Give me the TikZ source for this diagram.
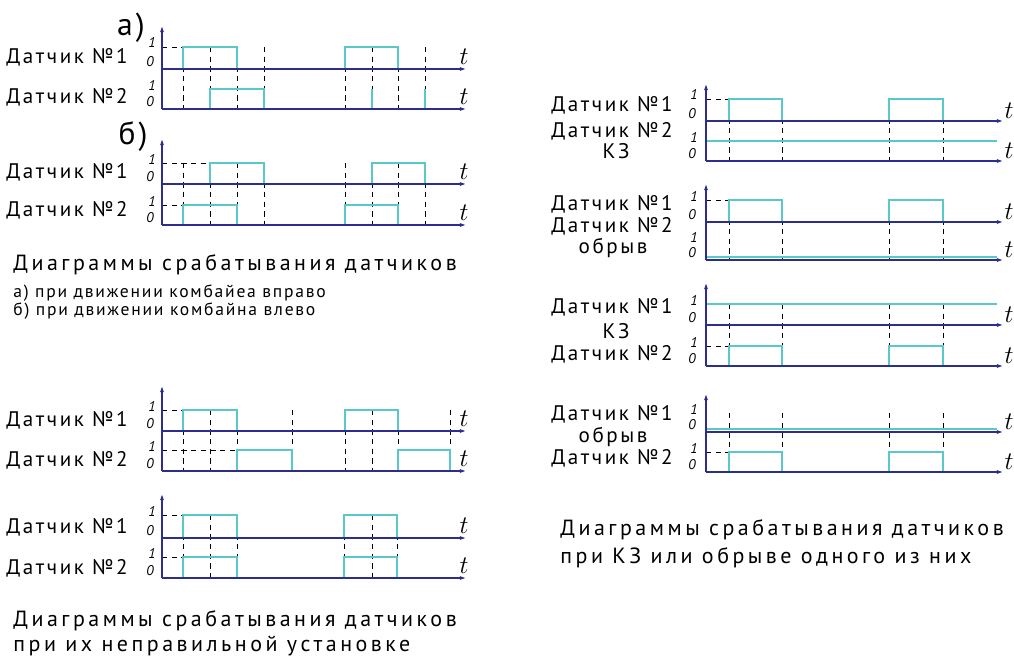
\documentclass[tikz,border=0pt]{standalone}
\usepackage{fontspec}
\setmainfont{PT Sans}
\newfontfamily\gost{PT Sans}[LetterSpace=10]
\newfontfamily\gostl{PT Sans}[LetterSpace=12]
\newfontfamily\gostw{PT Sans}[LetterSpace=16]
\usetikzlibrary{arrows.meta}
\definecolor{axblue}{RGB}{45,45,140}
\definecolor{sigcyan}{RGB}{90,200,200}

\begin{document}
\begin{tikzpicture}[x=0.02cm,y=-0.02cm,inner sep=0pt,
  ax/.style={draw=axblue,line width=0.8pt,-{Latex[length=4pt,width=2.2pt]}},
  sig/.style={draw=sigcyan,line width=0.7pt},
  guide/.style={draw=black,line width=0.55pt,dash pattern=on 3pt off 2.5pt},
  lab/.style={font={\gostl\fontsize{12}{14}\selectfont}},
  captxt/.style={font={\gostw\fontsize{12.5}{14}\selectfont},anchor=west},
  capsmall/.style={font={\gost\fontsize{10}{12}\selectfont},anchor=west},
  lvl/.style={font={\itshape\fontsize{8}{9}\selectfont}},
  tt/.style={font=\Large}]
\useasboundingbox (0,0) rectangle (1014,665);

% dashed guides and level lines, left side
\foreach \x in {183,210,237,264,345,372,398,425} \draw[guide] (\x,47) -- (\x,109);
\foreach \x in {183,210,237,264,345,372,398,425} \draw[guide] (\x,163) -- (\x,225);
\foreach \x in {183,210,237,292,345,372,398,450} \draw[guide] (\x,410) -- (\x,471);
\foreach \x in {183,210,237,344,372,397} \draw[guide] (\x,515) -- (\x,578);
\draw[guide] (162,47) -- (183,47);
\draw[guide] (162,163) -- (210,163);
\draw[guide] (162,205) -- (183,205);
\draw[guide] (162,410) -- (183,410);
\draw[guide] (162,450) -- (237,450);
\draw[guide] (162,515) -- (183,515);
\draw[guide] (162,557) -- (183,557);

% right side
\foreach \x in {729,782,889,943} {
  \draw[guide] (\x,99) -- (\x,161);
  \draw[guide] (\x,200) -- (\x,260);
  \draw[guide] (\x,304) -- (\x,366);
  \draw[guide] (\x,413) -- (\x,472);
}
\draw[guide] (706,99) -- (729,99);
\draw[guide] (706,200) -- (729,200);
\draw[guide] (706,346) -- (729,346);
\draw[guide] (706,452) -- (729,452);

% signals
\draw[sig] (183,69) |- (237,47) -- (237,69) (345,69) |- (398,47) -- (398,69);
\draw[sig] (210,109) |- (264,89) -- (264,109) (372,89) -- (372,109) (425,89) -- (425,109);
\draw[sig] (210,184) |- (264,163) -- (264,184) (372,184) |- (425,163) -- (425,184);
\draw[sig] (183,225) |- (237,205) -- (237,225) (345,225) |- (398,205) -- (398,225);
\draw[sig] (183,431) |- (237,410) -- (237,431) (345,431) |- (398,410) -- (398,431);
\draw[sig] (237,471) |- (292,450) -- (292,471) (398,471) |- (450,450) -- (450,471);
\draw[sig] (183,538) |- (237,515) -- (237,538) (344,538) |- (397,515) -- (397,538);
\draw[sig] (183,578) |- (237,557) -- (237,578) (344,578) |- (397,557) -- (397,578);

\draw[sig] (729,121) |- (782,99) -- (782,121) (889,121) |- (943,99) -- (943,121);
\draw[sig] (706,141) -- (997,141);
\draw[sig] (729,222) |- (782,200) -- (782,222) (889,222) |- (943,200) -- (943,222);
\draw[sig] (706,257) -- (997,257);
\draw[sig] (706,304) -- (997,304);
\draw[sig] (729,366) |- (782,346) -- (782,366) (889,366) |- (943,346) -- (943,366);
\draw[sig] (706,429) -- (997,429);
\draw[sig] (729,472) |- (782,452) -- (782,472) (889,472) |- (943,452) -- (943,472);

% axes, levels and t
\foreach \n/\top/\ha/\la/\hb/\lb in {a/25/47/69/89/109, b/138/163/184/205/225,
    c/385/410/431/450/471, d/493/515/538/557/578} {
  \draw[ax] (162,\lb) -- (162,\top);
  \draw[ax] (162,\la) -- (467,\la);
  \draw[ax] (162,\lb) -- (467,\lb);
  \node[lvl] (h\n1) at (152,\ha-4) {1};
  \node[lvl] (l\n1) at (150,\la-7) {0};
  \node[lvl] (h\n2) at (152,\hb-4) {1};
  \node[lvl] (l\n2) at (150,\lb-7) {0};
  \node[tt] (t\n1) at (464,\la-12) {$t$};
  \node[tt] (t\n2) at (464,\lb-12) {$t$};
}
\foreach \n/\top/\ha/\la/\hb/\lb in {e/83/99/121/141/161, f/183/200/222/241/260,
    g/282/304/325/346/366, h/393/413/432/452/472} {
  \draw[ax] (706,\lb) -- (706,\top);
  \draw[ax] (706,\la) -- (1004,\la);
  \draw[ax] (706,\lb) -- (1004,\lb);
  \node[lvl] (h\n1) at (694,\ha-4) {1};
  \node[lvl] (l\n1) at (692,\la-7) {0};
  \node[lvl] (h\n2) at (694,\hb-4) {1};
  \node[lvl] (l\n2) at (692,\lb-7) {0};
  \node[tt] (t\n1) at (1009,\la-10) {$t$};
  \node[tt] (t\n2) at (1009,\lb-10) {$t$};
}

% sensor names
\node[font={\gost\fontsize{18}{20}\selectfont}] (ka) at (131,28) {а)};
\node[font={\gost\fontsize{18}{20}\selectfont}] (kb) at (133,137) {б)};
\node[lab,anchor=west] (da1) at (6,57) {Датчик №1};
\node[lab,anchor=west] (da2) at (6,97) {Датчик №2};
\node[lab,anchor=west] (db1) at (6,172) {Датчик №1};
\node[lab,anchor=west] (db2) at (6,210) {Датчик №2};
\node[lab,anchor=west] (dc1) at (6,420) {Датчик №1};
\node[lab,anchor=west] (dc2) at (6,460) {Датчик №2};
\node[lab,anchor=west] (dd1) at (6,527) {Датчик №1};
\node[lab,anchor=west] (dd2) at (6,568) {Датчик №2};

\node[lab] (de1) at (612,105) {Датчик №1};
\node[lab] (de2) at (612,131) {Датчик №2};
\node[lab] (ke) at (616,151) {КЗ};
\node[lab] (df1) at (612,204) {Датчик №1};
\node[lab] (df2) at (612,226) {Датчик №2};
\node[lab] (kf) at (613,248) {обрыв};
\node[lab] (dg1) at (612,307) {Датчик №1};
\node[lab] (kg) at (616,331) {КЗ};
\node[lab] (dg2) at (612,354) {Датчик №2};
\node[lab] (dh1) at (612,414) {Датчик №1};
\node[lab] (kh) at (613,437) {обрыв};
\node[lab] (dh2) at (612,458) {Датчик №2};

% captions
\node[captxt] (c1) at (13,265) {Диаграммы срабатывания датчиков};
\node[capsmall] (c2) at (13,293) {а) при движении комбайеа вправо};
\node[capsmall] (c3) at (13,311) {б) при движении комбайна влево};
\node[captxt] (c4) at (13,621) {Диаграммы срабатывания датчиков};
\node[captxt] (c5) at (13,646) {при их неправильной установке};
\node[captxt] (c6) at (560,530) {Диаграммы срабатывания датчиков};
\node[captxt] (c7) at (560,558) {при КЗ или обрыве одного из них};
\end{tikzpicture}
\end{document}
